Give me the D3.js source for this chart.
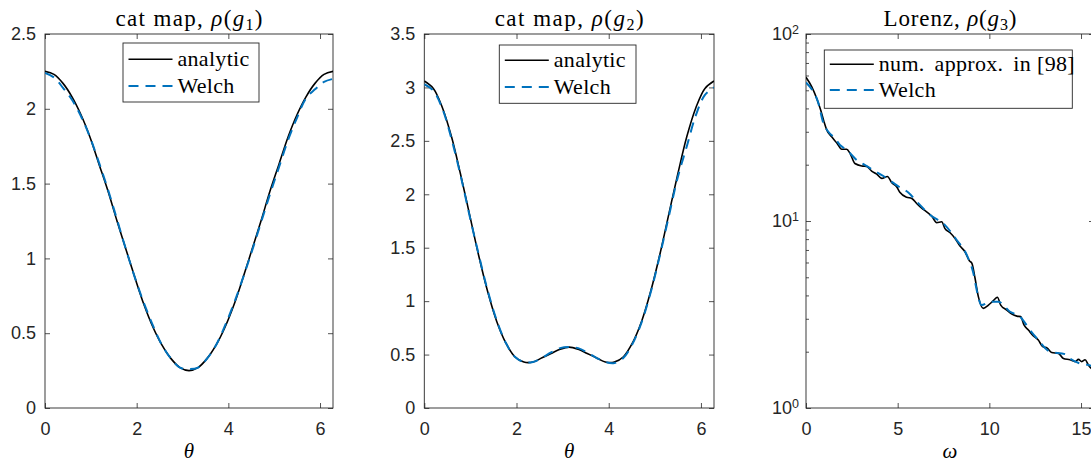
<!DOCTYPE html>
<html>
<head>
<meta charset="utf-8">
<script src="https://cdn.jsdelivr.net/npm/d3@7/dist/d3.min.js"></script>
<style>
  html, body { margin: 0; padding: 0; background: #fff; }
  svg { display: block; }
</style>
</head>
<body>
<svg id="chart" width="1091" height="464"></svg>
<script>
// ---- data -------------------------------------------------------------
// angle grid for the two cat-map spectra
const theta = [0, 0.196, 0.393, 0.589, 0.785, 0.982, 1.178, 1.374, 1.571, 1.767, 1.963,
  2.16, 2.356, 2.553, 2.749, 2.945, 3.142, 3.338, 3.534, 3.731, 3.927, 4.123, 4.32,
  4.516, 4.712, 4.909, 5.105, 5.301, 5.498, 5.694, 5.89, 6.087, 6.283];

const catG1Analytic = [2.25, 2.23, 2.17, 2.08, 1.96, 1.81, 1.63, 1.45, 1.25, 1.06, 0.87,
  0.69, 0.54, 0.42, 0.33, 0.27, 0.25, 0.27, 0.33, 0.42, 0.54, 0.69, 0.87, 1.06, 1.25,
  1.45, 1.63, 1.81, 1.96, 2.08, 2.17, 2.23, 2.25];
const catG1Welch = [2.24, 2.21, 2.14, 2.06, 1.95, 1.81, 1.64, 1.46, 1.26, 1.06, 0.87,
  0.70, 0.55, 0.42, 0.33, 0.27, 0.26, 0.27, 0.33, 0.42, 0.55, 0.70, 0.87, 1.05, 1.24,
  1.43, 1.61, 1.79, 1.94, 2.07, 2.13, 2.18, 2.20];

const catG2Analytic = [3.06, 2.99, 2.81, 2.54, 2.19, 1.81, 1.43, 1.09, 0.81, 0.61, 0.48,
  0.43, 0.43, 0.47, 0.51, 0.55, 0.57, 0.55, 0.51, 0.47, 0.43, 0.43, 0.48, 0.61, 0.81,
  1.09, 1.43, 1.81, 2.19, 2.54, 2.81, 2.99, 3.06];
const catG2Welch = [3.03, 2.97, 2.80, 2.52, 2.18, 1.80, 1.44, 1.10, 0.82, 0.61, 0.48,
  0.43, 0.43, 0.47, 0.52, 0.56, 0.57, 0.56, 0.52, 0.47, 0.43, 0.42, 0.47, 0.60, 0.80,
  1.08, 1.42, 1.79, 2.16, 2.45, 2.74, 2.93, 3.00];

// Lorenz spectrum: reference approximation and Welch estimate
const omegaRef = [0, 0.31, 0.58, 0.80, 0.98, 1.13, 1.40, 1.67, 1.95, 2.22, 2.40, 2.67,
  3.04, 3.31, 3.58, 3.86, 4.13, 4.44, 4.68, 4.95, 5.13, 5.49, 5.77, 6.04, 6.31, 6.58,
  6.86, 7.13, 7.40, 7.58, 7.86, 8.13, 8.40, 8.67, 8.91, 9.05, 9.22, 9.40, 9.67, 9.95,
  10.22, 10.44, 10.62, 10.95, 11.23, 11.50, 11.71, 11.89, 12.13, 12.40, 12.67, 12.91,
  13.16, 13.40, 13.77, 14.04, 14.40, 14.68, 14.86, 15.04, 15.22, 15.40, 15.55, 15.71];
const lorenzRef = [58.7, 52.3, 45.3, 39.2, 34.0, 30.7, 28.2, 26.2, 24.2, 24.2, 23.0, 20.3,
  19.7, 19.6, 18.5, 17.8, 16.9, 17.3, 16.0, 15.2, 14.2, 13.4, 13.2, 12.4, 11.7, 11.2,
  10.6, 9.8, 9.9, 9.1, 8.65, 8.07, 7.35, 6.85, 6.13, 5.94, 4.94, 3.94, 3.41, 3.55,
  3.75, 3.91, 3.55, 3.34, 3.18, 3.10, 3.08, 2.78, 2.61, 2.43, 2.31, 2.13,
  2.09, 1.98, 1.96, 1.84, 1.81, 1.77, 1.82, 1.77, 1.81, 1.70, 1.63, 1.58];
const omegaWelch = [0, 0.40, 0.65, 0.95, 1.22, 1.58, 1.85, 2.22, 2.76, 3.22, 3.67, 4.22,
  4.68, 5.13, 5.58, 6.04, 6.76, 7.58, 8.22, 8.77, 9.13, 9.31, 9.58, 10.04, 10.49, 11.13,
  11.67, 12.22, 12.67, 13.31, 14.13, 14.40, 14.95, 15.40, 15.71];
const lorenzWelch = [55.0, 49.1, 43.5, 33.3, 30.0, 27.7, 25.5, 24.0, 21.2, 19.9, 18.7, 17.4,
  16.2, 15.1, 14.2, 12.7, 10.8, 9.5, 7.91, 6.58, 5.25, 4.28, 3.55, 3.70, 3.70, 3.27,
  3.08, 2.61, 2.31, 2.00, 1.94, 1.84, 1.73, 1.70, 1.66];

// ticks
const thetaTicks = [0, 2, 4, 6];
const g1Ticks = [0, 0.5, 1, 1.5, 2, 2.5];
const g2Ticks = [0, 0.5, 1, 1.5, 2, 2.5, 3, 3.5];
const omegaTicks = [0, 5, 10, 15];
const logMajor = [1, 10, 100];
const logExponents = ["0", "1", "2"];
const logMinor = [2, 3, 4, 5, 6, 7, 8, 9, 20, 30, 40, 50, 60, 70, 80, 90];

// legend text (words kept separate so the sentence spacing after "." can be wider)
const legendCat = [["analytic"], ["Welch"]];
const legendLorenz = [["num.", "approx.", "in", "[98]"], ["Welch"]];

// ---- drawing ----------------------------------------------------------
const svg = d3.select("#chart");
const AX = "#262626";
const BLUE = "#0072BD";
const SANS = "'Liberation Sans', Arial, Helvetica, sans-serif";
const SERIF = "'Liberation Serif', 'Times New Roman', serif";

const panels = [
  { id: "p1", left: 45, right: 333, top: 34, bottom: 408, xDomain: [0, 2 * Math.PI],
    yDomain: [0, 2.5], yTicks: g1Ticks, xTicks: thetaTicks,
    xs: [theta, theta], ys: [catG1Analytic, catG1Welch],
    title: ["cat map, ", "1"], titleWidth: 147, xlabel: "θ", legend: legendCat,
    leg: { x: 123, y: 43, w: 136, h: 59, r1: 59.3, r2: 86 } },
  { id: "p2", left: 424.3, right: 714, top: 34, bottom: 408, xDomain: [0, 2 * Math.PI],
    yDomain: [0, 3.5], yTicks: g2Ticks, xTicks: thetaTicks,
    xs: [theta, theta], ys: [catG2Analytic, catG2Welch],
    title: ["cat map, ", "2"], titleWidth: 149, xlabel: "θ", legend: legendCat,
    leg: { x: 499.3, y: 45, w: 136.7, h: 58.3, r1: 60.3, r2: 87 } },
  { id: "p3", left: 806, right: 1094, top: 34, bottom: 408, xDomain: [0, 5 * Math.PI],
    log: true, yDomain: [1, 100], xTicks: omegaTicks,
    xs: [omegaRef, omegaWelch], ys: [lorenzRef, lorenzWelch],
    title: ["Lorenz, ", "3"], titleWidth: 133, xlabel: "ω", legend: legendLorenz,
    leg: { x: 824.3, y: 50, w: 248, h: 58.3, r1: 64.3, r2: 90 } }
];

function styleAxis(g) {
  g.attr("color", AX);
  g.select(".domain").remove();
  g.selectAll(".tick line").attr("stroke-width", 0.8);
  g.selectAll(".tick text").attr("font-family", SANS).attr("font-size", 18).attr("fill", AX);
}

panels.forEach(p => {
  const x = d3.scaleLinear().domain(p.xDomain).range([p.left, p.right]);
  const y = (p.log ? d3.scaleLog() : d3.scaleLinear()).domain(p.yDomain).range([p.bottom, p.top]);
  const g = svg.append("g");

  g.append("clipPath").attr("id", "clip-" + p.id)
    .append("rect").attr("x", p.left).attr("y", p.top)
    .attr("width", p.right - p.left).attr("height", p.bottom - p.top);

  // axes (ticks pointing inward on all four sides)
  const bottom = g.append("g").attr("transform", `translate(0,${p.bottom})`)
    .call(d3.axisBottom(x).tickValues(p.xTicks).tickSizeInner(-5).tickSizeOuter(0)
      .tickPadding(14.5).tickFormat(d => String(d)));
  styleAxis(bottom);
  const top = g.append("g").attr("transform", `translate(0,${p.top})`)
    .call(d3.axisTop(x).tickValues(p.xTicks).tickSizeInner(-5).tickSizeOuter(0).tickFormat(""));
  styleAxis(top);

  if (!p.log) {
    const left = g.append("g").attr("transform", `translate(${p.left},0)`)
      .call(d3.axisLeft(y).tickValues(p.yTicks).tickSizeInner(-5).tickSizeOuter(0)
        .tickPadding(9).tickFormat(d => String(d)));
    styleAxis(left);
    const right = g.append("g").attr("transform", `translate(${p.right},0)`)
      .call(d3.axisRight(y).tickValues(p.yTicks).tickSizeInner(-5).tickSizeOuter(0).tickFormat(""));
    styleAxis(right);
  } else {
    const left = g.append("g").attr("transform", `translate(${p.left},0)`)
      .call(d3.axisLeft(y).tickValues(logMajor).tickSizeInner(-5).tickSizeOuter(0).tickPadding(7));
    styleAxis(left);
    left.selectAll(".tick text").each(function (d, i) {
      const t = d3.select(this).text(null);
      t.append("tspan").text("10");
      t.append("tspan").attr("dy", "-0.5em").attr("font-size", 12.5).text(logExponents[i]);
    });
    const leftMinor = g.append("g").attr("transform", `translate(${p.left},0)`)
      .call(d3.axisLeft(y).tickValues(logMinor).tickSizeInner(-3).tickSizeOuter(0).tickFormat(""));
    styleAxis(leftMinor);
    const right = g.append("g").attr("transform", `translate(${p.right},0)`)
      .call(d3.axisRight(y).tickValues(logMajor).tickSizeInner(-5).tickSizeOuter(0).tickFormat(""));
    styleAxis(right);
    const rightMinor = g.append("g").attr("transform", `translate(${p.right},0)`)
      .call(d3.axisRight(y).tickValues(logMinor).tickSizeInner(-3).tickSizeOuter(0).tickFormat(""));
    styleAxis(rightMinor);
  }

  // box
  g.append("rect").attr("x", p.left).attr("y", p.top)
    .attr("width", p.right - p.left).attr("height", p.bottom - p.top)
    .attr("fill", "none").attr("stroke", AX).attr("stroke-width", 0.9);

  // curves
  const plot = g.append("g").attr("clip-path", `url(#clip-${p.id})`);
  const curve = p.log ? d3.curveMonotoneX : d3.curveCatmullRom.alpha(0.5);
  const mk = (xs) => d3.line().x((d, i) => x(xs[i])).y(d => y(d)).curve(curve);
  plot.append("path").attr("d", mk(p.xs[0])(p.ys[0]))
    .attr("fill", "none").attr("stroke", "#000").attr("stroke-width", 1.6)
    .attr("stroke-linejoin", "round");
  plot.append("path").attr("d", mk(p.xs[1])(p.ys[1]))
    .attr("fill", "none").attr("stroke", BLUE).attr("stroke-width", 2)
    .attr("stroke-dasharray", "10,7");

  // title, spread to the width TeX gives it
  const cx = (p.left + p.right) / 2;
  const tt = g.append("text").attr("x", cx).attr("y", 26).attr("text-anchor", "middle")
    .attr("font-family", SERIF).attr("font-size", 23).attr("fill", "#000")
    .attr("textLength", p.titleWidth).attr("lengthAdjust", "spacing");
  tt.append("tspan").text(p.title[0]);
  tt.append("tspan").attr("font-style", "italic").text("ρ");
  tt.append("tspan").text("(");
  tt.append("tspan").attr("font-style", "italic").text("g");
  tt.append("tspan").attr("font-size", 16).attr("dy", 4).text(p.title[1]);
  tt.append("tspan").attr("dy", -4).text(")");

  // x label
  g.append("text").attr("x", cx).attr("y", 458).attr("text-anchor", "middle")
    .attr("font-family", SERIF).attr("font-style", "italic").attr("font-size", 21)
    .attr("fill", "#000").text(p.xlabel);

  // legend
  const L = p.leg;
  const lg = g.append("g");
  lg.append("rect").attr("x", L.x).attr("y", L.y).attr("width", L.w).attr("height", L.h)
    .attr("fill", "#fff").attr("stroke", AX).attr("stroke-width", 0.9);
  const lx0 = L.x + 5.5, lx1 = L.x + 49.5;
  lg.append("line").attr("x1", lx0).attr("x2", lx1).attr("y1", L.r1).attr("y2", L.r1)
    .attr("stroke", "#000").attr("stroke-width", 1.6);
  lg.append("line").attr("x1", lx0).attr("x2", lx1).attr("y1", L.r2).attr("y2", L.r2)
    .attr("stroke", BLUE).attr("stroke-width", 2).attr("stroke-dasharray", "10,7");
  [L.r1, L.r2].forEach((ry, i) => {
    const t = lg.append("text").attr("x", lx1 + 5).attr("y", ry + 6.5)
      .attr("font-family", SERIF).attr("font-size", 22).attr("fill", "#000")
      .attr("letter-spacing", 0.3);
    p.legend[i].forEach((w, j) => {
      // wider gap after a sentence-ending period, as TeX typesets it
      const prev = j > 0 ? p.legend[i][j - 1] : "";
      t.append("tspan").attr("dx", j === 0 ? 0 : (prev.endsWith(".") ? 10 : 6)).text(w);
    });
  });
});
</script>
</body>
</html>
